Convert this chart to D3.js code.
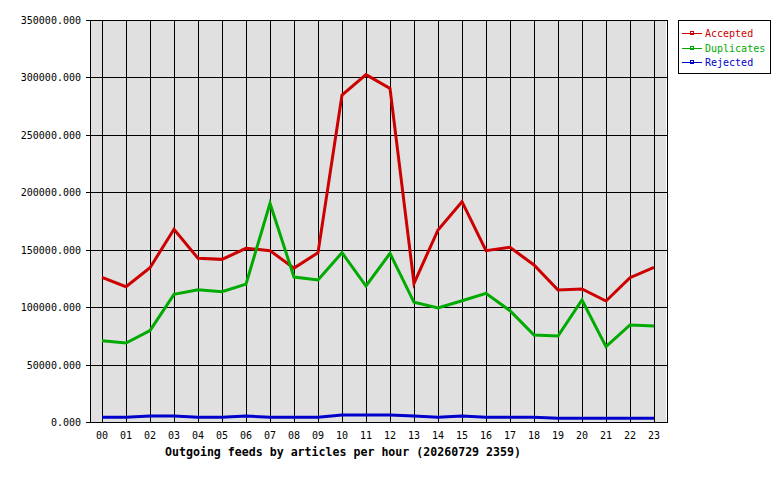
<!DOCTYPE html>
<html><head><meta charset="utf-8">
<script src="https://cdn.jsdelivr.net/npm/d3@7"></script>
<style>
body{margin:0;background:#fff;}
svg{display:block;}
text{font-family:"DejaVu Sans Mono","Liberation Mono",monospace;}
</style></head>
<body><svg id="c" width="780" height="480"></svg>
<script>
const hours = ["00","01","02","03","04","05","06","07","08","09","10","11","12","13","14","15","16","17","18","19","20","21","22","23"];
const accepted = [126000,117800,134300,167800,142500,141600,151200,149200,134000,147400,284700,302400,290500,120700,167200,191800,149200,152100,136700,114900,115800,105300,125600,134700];
const duplicates = [70800,68800,79500,111100,115200,113500,120100,190400,126200,123600,147400,118400,146800,104200,99300,105600,112000,96900,75700,74900,106200,65600,84500,83600];
const rejected = [4100,4100,5200,5200,4100,4100,5200,4100,4100,4100,6100,6100,6100,5200,4100,5200,4100,4100,4100,3200,3200,3200,3200,3200];
const yTicks = [0,50000,100000,150000,200000,250000,300000,350000];
const seriesNames = ["Accepted","Duplicates","Rejected"];
const seriesColors = ["#cc0000","#00aa00","#0000cc"];
const title = "Outgoing feeds by articles per hour (20260729 2359)";

const svg = d3.select("#c");
const L = 90, R = 666, T = 20, B = 422;
const x = d3.scalePoint().domain(hours).range([L, R]).padding(0.5);
const y = d3.scaleLinear().domain([0, 350000]).range([B, T]);

svg.append("rect").attr("x", L).attr("y", T).attr("width", R - L).attr("height", B - T)
  .attr("fill", "#e0e0e0");

const g = svg.append("g").attr("shape-rendering", "crispEdges");
g.selectAll("line.v").data(hours).join("line")
  .attr("x1", d => Math.round(x(d)) + 0.5).attr("x2", d => Math.round(x(d)) + 0.5)
  .attr("y1", T).attr("y2", B).attr("stroke", "#000");
g.selectAll("line.h").data(yTicks).join("line")
  .attr("x1", L - 4).attr("x2", R + 1)
  .attr("y1", d => Math.round(y(d)) + 0.5).attr("y2", d => Math.round(y(d)) + 0.5).attr("stroke", "#000");
g.append("line").attr("x1", L + 0.5).attr("x2", L + 0.5).attr("y1", T).attr("y2", B).attr("stroke", "#000");
g.append("line").attr("x1", R + 1.5).attr("x2", R + 1.5).attr("y1", T).attr("y2", B + 1).attr("stroke", "#000");

// y labels
svg.selectAll("text.yl").data(yTicks).join("text")
  .attr("x", 81).attr("y", d => y(d) + 4)
  .attr("text-anchor", "end").attr("font-size", "10px").attr("fill", "#000")
  .text(d => d3.format(".3f")(d));

// x labels
svg.selectAll("text.xl").data(hours).join("text")
  .attr("x", d => x(d)).attr("y", 439)
  .attr("text-anchor", "middle").attr("font-size", "10px").attr("fill", "#000")
  .text(d => d);

svg.append("text").attr("x", 165).attr("y", 456)
  .attr("font-size", "11.6px").attr("font-weight", "bold").attr("fill", "#000")
  .text(title);

const line = d3.line().x((d, i) => x(hours[i])).y(d => y(d));
[accepted, duplicates, rejected].forEach((s, k) => {
  svg.append("path").datum(s).attr("d", line)
    .attr("fill", "none").attr("stroke", seriesColors[k]).attr("stroke-width", 3)
    .attr("stroke-linejoin", "miter");
});

// legend
const lg = svg.append("g").attr("shape-rendering", "crispEdges");
lg.append("rect").attr("x", 678.5).attr("y", 20.5).attr("width", 92).attr("height", 53)
  .attr("fill", "#fff").attr("stroke", "#000");
seriesNames.forEach((n, k) => {
  const yy = 33 + k * 14.5;
  lg.append("line").attr("x1", 682).attr("x2", 702).attr("y1", Math.round(yy) + 0.5).attr("y2", Math.round(yy) + 0.5)
    .attr("stroke", seriesColors[k]);
  lg.append("rect").attr("x", 690.5).attr("y", Math.round(yy) - 1.5).attr("width", 3).attr("height", 3)
    .attr("fill", "none").attr("stroke", seriesColors[k]);
  svg.append("text").attr("x", 705).attr("y", yy + 4).attr("font-size", "10px")
    .attr("fill", seriesColors[k]).text(n);
});
</script></body></html>
